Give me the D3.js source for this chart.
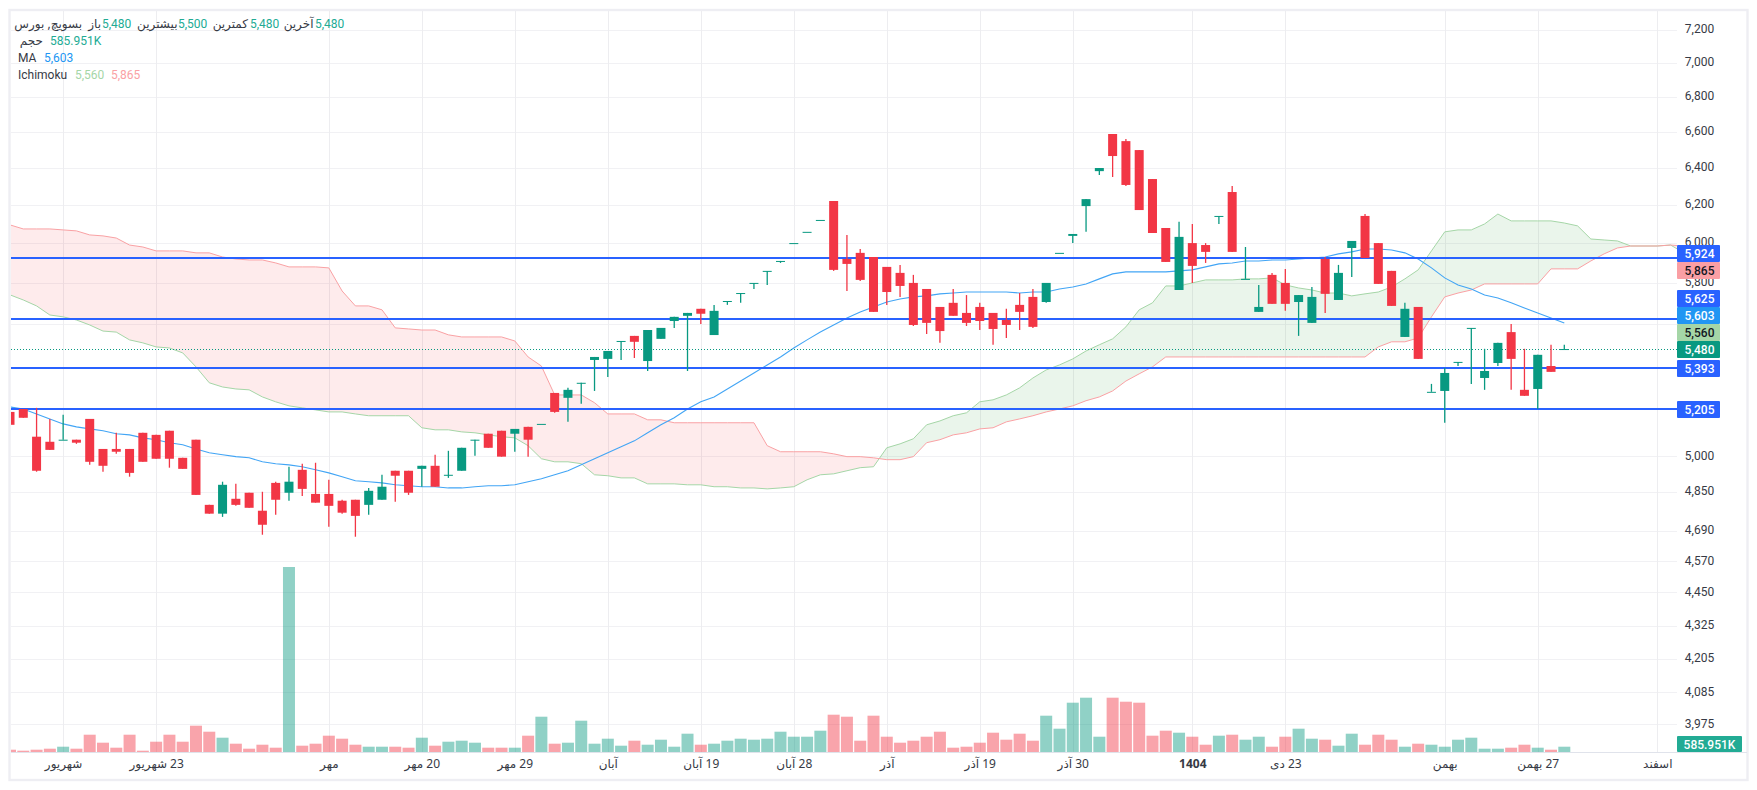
<!DOCTYPE html>
<html>
<head>
<meta charset="utf-8">
<script src="https://cdn.jsdelivr.net/npm/d3@7"></script>
<style>
  html, body { margin: 0; padding: 0; background: #fff; }
  svg { display: block; }
  text { font-family: Roboto, "DejaVu Sans", sans-serif; font-size: 12px; fill: #363a45; }
  .fa { font-family: "Noto Sans", "DejaVu Sans", sans-serif; }
</style>
</head>
<body>
<div id="chart"></div>
<script>
/* Candles */
const opens = [5193,5206,5084,5062,5071,5071,5162,5031,5031,5031,5101,5092,5110,4993,5071,4796,4760,4821,4846,4772,4887,4846,4942,4841,4841,4813,4817,4796,4817,4938,4938,4946,4959,4921,4938,5071,5097,5110,5097,5127,5140,5278,5256,5324,5429,5434,5518,5542,5424,5528,5613,5638,5672,5546,5710,5749,5799,5859,5909,6000,6058,6120,6220,5919,5950,5929,5879,5849,5799,5769,5681,5701,5652,5681,5652,5618,5691,5730,5705,5950,6037,6193,6381,6587,6547,6497,6338,6078,5764,6000,5990,6141,6268,5819,5657,5839,5799,5705,5604,5919,5715,5975,6141,6000,5859,5537,5681,5283,5287,5420,5580,5346,5415,5560,5292,5296,5401,5480]
const highs = [5193,5206,5211,5162,5180,5071,5162,5031,5101,5031,5101,5092,5110,4993,5071,4796,4892,4883,4846,4850,4892,4955,4968,4972,4900,4817,4817,4866,4921,4938,4938,4959,5006,5023,5036,5071,5097,5110,5118,5127,5140,5278,5301,5324,5443,5471,5518,5542,5570,5580,5633,5652,5672,5691,5710,5749,5799,5859,5909,6000,6058,6120,6220,6042,5970,5929,5879,5889,5839,5769,5681,5769,5739,5701,5652,5672,5749,5769,5799,5950,6047,6230,6398,6587,6559,6497,6338,6078,6110,6099,6000,6141,6301,5980,5789,5849,5869,5739,5779,5929,5889,6011,6151,6000,5859,5701,5681,5319,5392,5420,5580,5481,5509,5599,5481,5453,5500,5500]
const lows = [5136,5167,4934,5027,5071,5053,4963,4934,5010,4913,4976,4989,4951,4946,4837,4760,4747,4792,4784,4675,4756,4813,4833,4805,4707,4760,4667,4756,4817,4809,4837,4871,4871,4908,4938,5002,5036,4998,5019,4998,5140,5189,5149,5229,5287,5351,5429,5438,5378,5528,5580,5378,5599,5546,5691,5701,5769,5789,5899,6000,6058,6120,5859,5759,5809,5657,5691,5730,5589,5551,5509,5638,5589,5570,5500,5532,5570,5580,5701,5950,6000,6058,6360,6349,6301,6172,6052,5904,5764,5799,5899,6099,5955,5819,5657,5696,5662,5542,5604,5652,5715,5829,5924,5794,5686,5537,5434,5283,5145,5401,5319,5292,5401,5292,5265,5206,5374,5480]
const closes = [5136,5167,4938,5027,5071,5058,4976,4959,5019,4929,4976,4989,4989,4946,4837,4760,4879,4796,4784,4715,4817,4892,4862,4805,4792,4764,4751,4854,4871,4917,4846,4959,4871,4921,5036,5071,5036,4998,5118,5071,5140,5193,5292,5324,5443,5471,5518,5514,5570,5580,5633,5652,5648,5662,5710,5749,5799,5859,5909,6000,6058,6120,5864,5894,5814,5657,5754,5784,5594,5604,5565,5638,5604,5613,5575,5594,5657,5585,5799,5950,6047,6230,6398,6464,6306,6172,6052,5904,6032,5884,5955,6141,5955,5819,5681,5696,5696,5739,5730,5745,5849,6011,5924,5794,5686,5672,5434,5283,5369,5420,5580,5378,5509,5434,5265,5453,5374,5480]

/* Volume in thousands */
const volumes = [254,144,254,365,586,365,1913,1029,476,1913,144,1139,1913,1139,2909,2245,1582,918,365,807,476,20461,697,918,1803,1471,807,586,586,586,476,1582,697,1139,1250,1029,476,476,476,1803,3904,918,1029,3462,918,1471,697,1250,807,1360,586,2024,807,918,1250,1471,1360,1471,2245,1692,1692,2356,4125,3904,1250,4015,1692,1029,1250,1692,2245,476,586,1029,2135,1360,2024,1250,4015,2577,5453,6006,1692,6006,5563,5453,1803,2356,2135,1692,807,1803,1913,1360,1692,586,1692,2577,1471,1360,697,2024,807,1913,1360,586,918,807,586,1360,1582,365,365,476,807,476,254,586]

/* Moving average */
const maValues = [5215,5206,5184,5162,5140,5127,5118,5110,5097,5092,5079,5071,5058,5049,5031,5015,5006,4998,4993,4976,4968,4963,4955,4942,4929,4913,4896,4892,4887,4879,4875,4871,4871,4866,4866,4871,4875,4875,4879,4892,4904,4921,4938,4963,4989,5015,5040,5066,5101,5136,5167,5206,5238,5260,5296,5332,5369,5406,5443,5485,5523,5560,5594,5628,5657,5681,5705,5720,5730,5735,5745,5749,5754,5754,5754,5754,5749,5754,5754,5769,5779,5794,5819,5844,5854,5854,5854,5854,5859,5864,5879,5894,5899,5909,5909,5914,5914,5919,5924,5929,5945,5955,5970,5970,5965,5950,5919,5874,5824,5789,5769,5739,5725,5701,5676,5652,5628,5603]

/* Ichimoku cloud, runs past the last candle */
const spanA = [5740,5715,5686,5642,5633,5618,5594,5565,5560,5523,5509,5490,5485,5462,5397,5324,5305,5296,5292,5260,5238,5220,5211,5202,5193,5193,5184,5176,5176,5176,5176,5123,5114,5114,5105,5101,5092,5084,5079,5045,4989,4976,4976,4968,4921,4917,4908,4908,4883,4883,4883,4879,4879,4871,4871,4866,4866,4862,4866,4871,4900,4921,4925,4938,4951,4955,5036,5053,5075,5136,5153,5176,5189,5238,5247,5269,5301,5346,5383,5406,5434,5471,5500,5528,5585,5667,5701,5784,5784,5799,5814,5814,5814,5819,5819,5824,5789,5774,5764,5749,5749,5735,5745,5754,5779,5819,5864,5960,6058,6068,6068,6099,6151,6115,6115,6115,6115,6104,6089,6021,6016,6011,5985,5985,5985,5990,5950]
const spanB = [6094,6073,6073,6073,6068,6063,6042,6037,6026,5990,5980,5960,5960,5960,5950,5950,5929,5919,5914,5914,5899,5879,5879,5879,5874,5759,5686,5686,5667,5580,5575,5570,5570,5547,5537,5537,5537,5537,5518,5443,5401,5269,5269,5269,5234,5184,5184,5184,5158,5158,5145,5145,5145,5145,5145,5145,5145,5045,5019,5019,5019,5019,5010,4998,4998,4993,4985,4985,4998,5058,5071,5092,5101,5118,5123,5149,5162,5176,5193,5206,5220,5243,5260,5287,5332,5365,5397,5443,5443,5443,5443,5443,5443,5443,5443,5443,5443,5443,5443,5443,5443,5443,5443,5490,5514,5514,5532,5633,5730,5749,5764,5794,5794,5794,5794,5794,5869,5869,5869,5909,5945,5975,5985,5985,5985,5990,5985]

/* Price axis */
const priceTicks = [7200,7000,6800,6600,6400,6200,6000,5800,5600,5000,4850,4690,4570,4450,4325,4205,4085,3975]
const levels = [5924,5625,5393,5205]
const lastPrice = 5480

/* Time axis */
const timeIdx = [4,11,24,31,38,45,52,59,66,73,80,89,96,108,115,124]
const timeLabels = ['شهریور','23 شهریور','مهر','20 مهر','29 مهر','آبان','19 آبان','28 آبان','آذر','19 آذر','30 آذر','1404','23 دی','بهمن','27 بهمن','اسفند']

/* Tags on the price axis */
const tagLabels = ['5,924','5,865','5,625','5,603','5,560','5,480','5,393','5,205']

const w = 1757
const h = 790
const green = '#089981'
const red = '#f23645'
const blue = '#2962ff'
const maColor = '#42a5f5'
const left = 11, right = 1677, volBottom = 752

const x = d3.scaleLinear().domain([0, 117]).range([10, 1564.3])
const y = d3.scaleLog().domain([3975, 7200]).range([724.3, 30])
const yVol = d3.scaleLinear().domain([0, 20461]).range([volBottom, 567])

const svg = d3.select('#chart').append('svg')
  .attr('width', w)
  .attr('height', h)
  .attr('viewBox', [0, 0, w, h])

/* Frame */
svg.append('rect')
  .attr('x', 9.5).attr('y', 10).attr('width', 1738).attr('height', 770)
  .attr('fill', 'none').attr('stroke', '#eeeef3').attr('stroke-width', 2.4)

svg.append('clipPath').attr('id', 'plot').append('rect')
  .attr('x', left).attr('y', 11).attr('width', right - left).attr('height', volBottom - 11)

/* Grid */
const grid = svg.append('g')
grid.selectAll('.hg').data(priceTicks).join('line')
  .attr('x1', left).attr('x2', right)
  .attr('y1', d => Math.round(y(d)) + 0.5).attr('y2', d => Math.round(y(d)) + 0.5)
  .attr('stroke', '#f1f1f4')
grid.selectAll('.vg').data(timeIdx).join('line')
  .attr('x1', d => Math.round(x(d)) + 0.5).attr('x2', d => Math.round(x(d)) + 0.5)
  .attr('y1', 11).attr('y2', volBottom)
  .attr('stroke', '#ededf0')

const plot = svg.append('g').attr('clip-path', 'url(#plot)')

/* Volume */
plot.append('g').selectAll('rect').data(volumes).join('rect')
  .attr('x', (d, i) => x(i) - 6)
  .attr('width', 12)
  .attr('y', d => yVol(d))
  .attr('height', d => volBottom - yVol(d))
  .attr('fill', (d, i) => closes[i] >= opens[i] ? green : red)
  .attr('fill-opacity', 0.45)

/* Ichimoku cloud: the same band, clipped either side of span B */
const bandArea = d3.area()
  .x((d, i) => x(i))
  .y0((d, i) => y(spanA[i]))
  .y1((d, i) => y(spanB[i]))

const aboveB = d3.area().x((d, i) => x(i)).y0(0).y1((d, i) => y(spanB[i]))
const belowB = d3.area().x((d, i) => x(i)).y0(d => h).y1((d, i) => y(spanB[i]))

svg.append('clipPath').attr('id', 'aboveB').append('path').attr('d', aboveB(spanA))
svg.append('clipPath').attr('id', 'belowB').append('path').attr('d', belowB(spanA))

plot.append('path').attr('d', bandArea(spanA))
  .attr('clip-path', 'url(#aboveB)')
  .attr('fill', '#43a047').attr('fill-opacity', 0.11)
plot.append('path').attr('d', bandArea(spanA))
  .attr('clip-path', 'url(#belowB)')
  .attr('fill', '#f23645').attr('fill-opacity', 0.1)

const line = d3.line().x((d, i) => x(i)).y(d => y(d))
plot.append('path').attr('d', line(spanA)).attr('fill', 'none').attr('stroke', '#a5d6a7').attr('stroke-width', 1)
plot.append('path').attr('d', line(spanB)).attr('fill', 'none').attr('stroke', '#faa1a4').attr('stroke-width', 1)

/* MA */
plot.append('path').attr('d', line(maValues)).attr('fill', 'none').attr('stroke', maColor).attr('stroke-width', 1.1)

/* Price lines sit under the candles */
plot.append('line')
  .attr('x1', left).attr('x2', right).attr('y1', Math.round(y(lastPrice)) + 0.5).attr('y2', Math.round(y(lastPrice)) + 0.5)
  .attr('stroke', green).attr('stroke-width', 1).attr('stroke-dasharray', '1 2')
plot.selectAll('.level').data(levels).join('line')
  .attr('x1', left).attr('x2', right).attr('y1', d => Math.round(y(d))).attr('y2', d => Math.round(y(d)))
  .attr('stroke', blue).attr('stroke-width', 2)

/* Candles */
const candles = plot.append('g')
candles.selectAll('line').data(opens).join('line')
  .attr('x1', (d, i) => x(i)).attr('x2', (d, i) => x(i))
  .attr('y1', (d, i) => y(highs[i])).attr('y2', (d, i) => y(lows[i]))
  .attr('stroke', (d, i) => closes[i] >= opens[i] ? green : red)
  .attr('stroke-width', 1.3)
candles.selectAll('rect').data(opens).join('rect')
  .attr('x', (d, i) => x(i) - 4.5)
  .attr('width', 9)
  .attr('y', (d, i) => y(Math.max(d, closes[i])))
  .attr('height', (d, i) => Math.max(Math.abs(y(d) - y(closes[i])), 1))
  .attr('fill', (d, i) => closes[i] >= opens[i] ? green : red)

/* Price axis, the 5,600 tick only keeps its grid line */
const yAxis = d3.axisRight(y)
  .tickValues(priceTicks.filter(d => d !== 5600))
  .tickSize(0)
  .tickPadding(0)
  .tickFormat(d3.format(','))
svg.append('g')
  .attr('transform', `translate(1699.5,-1)`)
  .call(yAxis)
  .call(g => g.select('.domain').remove())
  .call(g => g.selectAll('text')
    .attr('text-anchor', 'middle')
    .style('font-family', 'Roboto, sans-serif').style('font-size', '12px').style('fill', '#363a45'))

/* Volume axis line and time axis */
const xAxis = d3.axisBottom(x)
  .tickValues(timeIdx)
  .tickSize(0)
  .tickPadding(7)
  .tickFormat((d, i) => timeLabels[i])
svg.append('g')
  .attr('transform', `translate(0,${volBottom})`)
  .call(xAxis)
  .call(g => g.select('.domain').remove())
  .call(g => g.selectAll('text')
    .attr('class', 'fa')
    .attr('direction', 'rtl')
    .style('font-size', '12px').style('fill', '#363a45')
    .style('font-weight', (d, i) => timeLabels[i] === '1404' ? 700 : 400))
svg.append('line')
  .attr('x1', left).attr('x2', 1747).attr('y1', volBottom + 0.5).attr('y2', volBottom + 0.5)
  .attr('stroke', '#e0e3eb')

/* Tags */
const tagTops = [245, 262, 290, 307, 324, 341, 360, 401]
const tagFills = [blue, '#fa9fa4', blue, '#2196f3', '#a5d6a7', green, blue, blue]
const tagText = ['#fff', '#131722', '#fff', '#fff', '#131722', '#fff', '#fff', '#fff']
const tags = svg.append('g').selectAll('g').data(tagLabels).join('g')
  .attr('transform', (d, i) => `translate(1677,${tagTops[i]})`)
tags.append('rect').attr('width', 43).attr('height', 17).attr('rx', 1)
  .attr('fill', (d, i) => tagFills[i])
tags.append('text').attr('x', 22.5).attr('y', 13).attr('text-anchor', 'middle')
  .style('fill', (d, i) => tagText[i]).style('font-weight', 500)
  .text(d => d)

/* Volume tag */
svg.append('rect').attr('x', 1677).attr('y', 736).attr('width', 65).attr('height', 16).attr('rx', 1).attr('fill', '#22ab94')
svg.append('text').attr('x', 1709.5).attr('y', 748.5).attr('text-anchor', 'middle')
  .style('fill', '#fff').style('font-weight', 500).text('585.951K')

/* Legend */
const legendGreen = '#22ab94'
const legend = svg.append('g')
const putFa = (t, xEnd, yy) => legend.append('text').attr('class', 'fa').attr('x', xEnd).attr('y', yy)
  .attr('text-anchor', 'end').style('font-size', '12px').text(t)
const putVal = (t, xStart, yy, c) => legend.append('text').attr('x', xStart).attr('y', yy)
  .style('fill', c).text(t)

putFa('بسویچ, بورس', 82, 28)
putFa('باز', 101, 28)
putVal('5,480', 102, 28, legendGreen)
putFa('بیشترین', 177.5, 28)
putVal('5,500', 178, 28, legendGreen)
putFa('کمترین', 248, 28)
putVal('5,480', 250, 28, legendGreen)
putFa('آخرین', 313.5, 28)
putVal('5,480', 315, 28, legendGreen)
putFa('حجم', 43, 45)
putVal('585.951K', 50, 45, legendGreen)
putVal('MA', 18, 62, '#363a45')
putVal('5,603', 44, 62, '#2196f3')
putVal('Ichimoku', 18, 79, '#363a45')
putVal('5,560', 75, 79, '#a5d6a7')
putVal('5,865', 111, 79, '#faa1a4')
</script>
</body>
</html>
